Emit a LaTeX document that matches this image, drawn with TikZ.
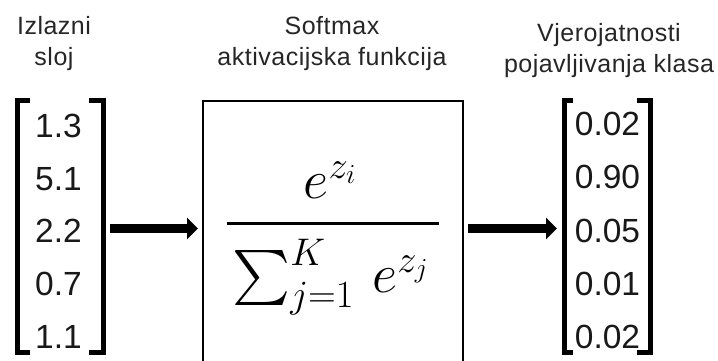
\RequirePackage{fix-cm}
\documentclass[tikz,border=0pt]{standalone}
\usepackage{amsmath}
\DeclareFontShape{OMX}{cmex}{m}{n}{<-> cmex10}{}
\usepackage{fontspec}
\setmainfont{Liberation Sans}
\newfontfamily\labfont[LetterSpace=2]{Liberation Sans}
\usetikzlibrary{arrows.meta,calc}
\begin{document}
\begin{tikzpicture}[x=1pt,y=-1pt,
  lab/.style={font=\labfont\fontsize{25}{31}\selectfont, text=black!85, align=center, inner sep=0, anchor=base},
  num/.style={font=\fontsize{33.5}{36}\selectfont, text=black!90, inner sep=0, anchor=base},
  brk/.style={line width=5pt, line join=miter},
  bigarrow/.style={line width=9pt, -{Triangle[length=11pt,width=21pt]}},
  frm/.style={font=\fontsize{55}{60}\selectfont, inner sep=0, anchor=base},
  mat/.style={inner sep=0, outer sep=0, minimum height=257pt},
]
\clip (0,0) rectangle (718,360);
\useasboundingbox (0,0) rectangle (718,360);
\fill[white] (0,0) rectangle (718,360);

% labels
\node[lab] (t1) at (54,65) {Izlazni\\sloj};
\node[lab] (t2) at (332,65) {Softmax\\aktivacijska funkcija};
\node[lab] (t3) at (609,72) {Vjerojatnosti\\pojavljivanja klasa};

% left matrix
\node[mat, minimum width=91pt] (lm) at (60.5,226.5) {};
\draw[brk] ($(lm.north west)+(15,2.5)$) -- ($(lm.north west)+(2.5,2.5)$) -- ($(lm.south west)+(2.5,-2.5)$) -- ($(lm.south west)+(15,-2.5)$);
\draw[brk] ($(lm.north east)+(-17,2.5)$) -- ($(lm.north east)+(-3,2.5)$) -- ($(lm.south east)+(-3,-2.5)$) -- ($(lm.south east)+(-17,-2.5)$);
\node[num] (l1) at (58.5,137) {1.3};
\node[num] (l2) at (58.5,190) {5.1};
\node[num] (l3) at (58.5,242) {2.2};
\node[num] (l4) at (58.5,295) {0.7};
\node[num] (l5) at (58.5,348) {1.1};

% right matrix
\node[mat, minimum width=90.5pt] (rm) at (607.25,226.5) {};
\draw[brk] ($(rm.north west)+(11,2.5)$) -- ($(rm.north west)+(2.5,2.5)$) -- ($(rm.south west)+(2.5,-2.5)$) -- ($(rm.south west)+(11,-2.5)$);
\draw[brk] ($(rm.north east)+(-15.5,2.5)$) -- ($(rm.north east)+(-2.5,2.5)$) -- ($(rm.south east)+(-2.5,-2.5)$) -- ($(rm.south east)+(-15.5,-2.5)$);
\node[num] (r1) at (607.5,135) {0.02};
\node[num] (r2) at (607.5,188) {0.90};
\node[num] (r3) at (607.5,242) {0.05};
\node[num] (r4) at (607.5,295) {0.01};
\node[num] (r5) at (607.5,348) {0.02};

% softmax box
\node[draw, line width=2pt, inner sep=0, outer sep=0, minimum width=260pt, minimum height=300pt, anchor=north] (box) at (333,101) {};
\node[frm] (numr) at (330,198) {$e^{z_i}$};
\node[frm] (den) at (330.5,292) {$\sum_{j=1}^{K}\, e^{z_j}$};
\coordinate (bl) at (227,223.3);
\coordinate (br) at (439,223.3);
\draw[line width=3pt] (bl) -- (br);

% arrows
\coordinate (ay) at (0,228.5);
\draw[bigarrow, shorten <=4pt, shorten >=5pt] (lm.east |- ay) -- (box.west |- ay);
\draw[bigarrow, shorten <=5pt, shorten >=5pt] (box.east |- ay) -- (rm.west |- ay);
\end{tikzpicture}
\end{document}
